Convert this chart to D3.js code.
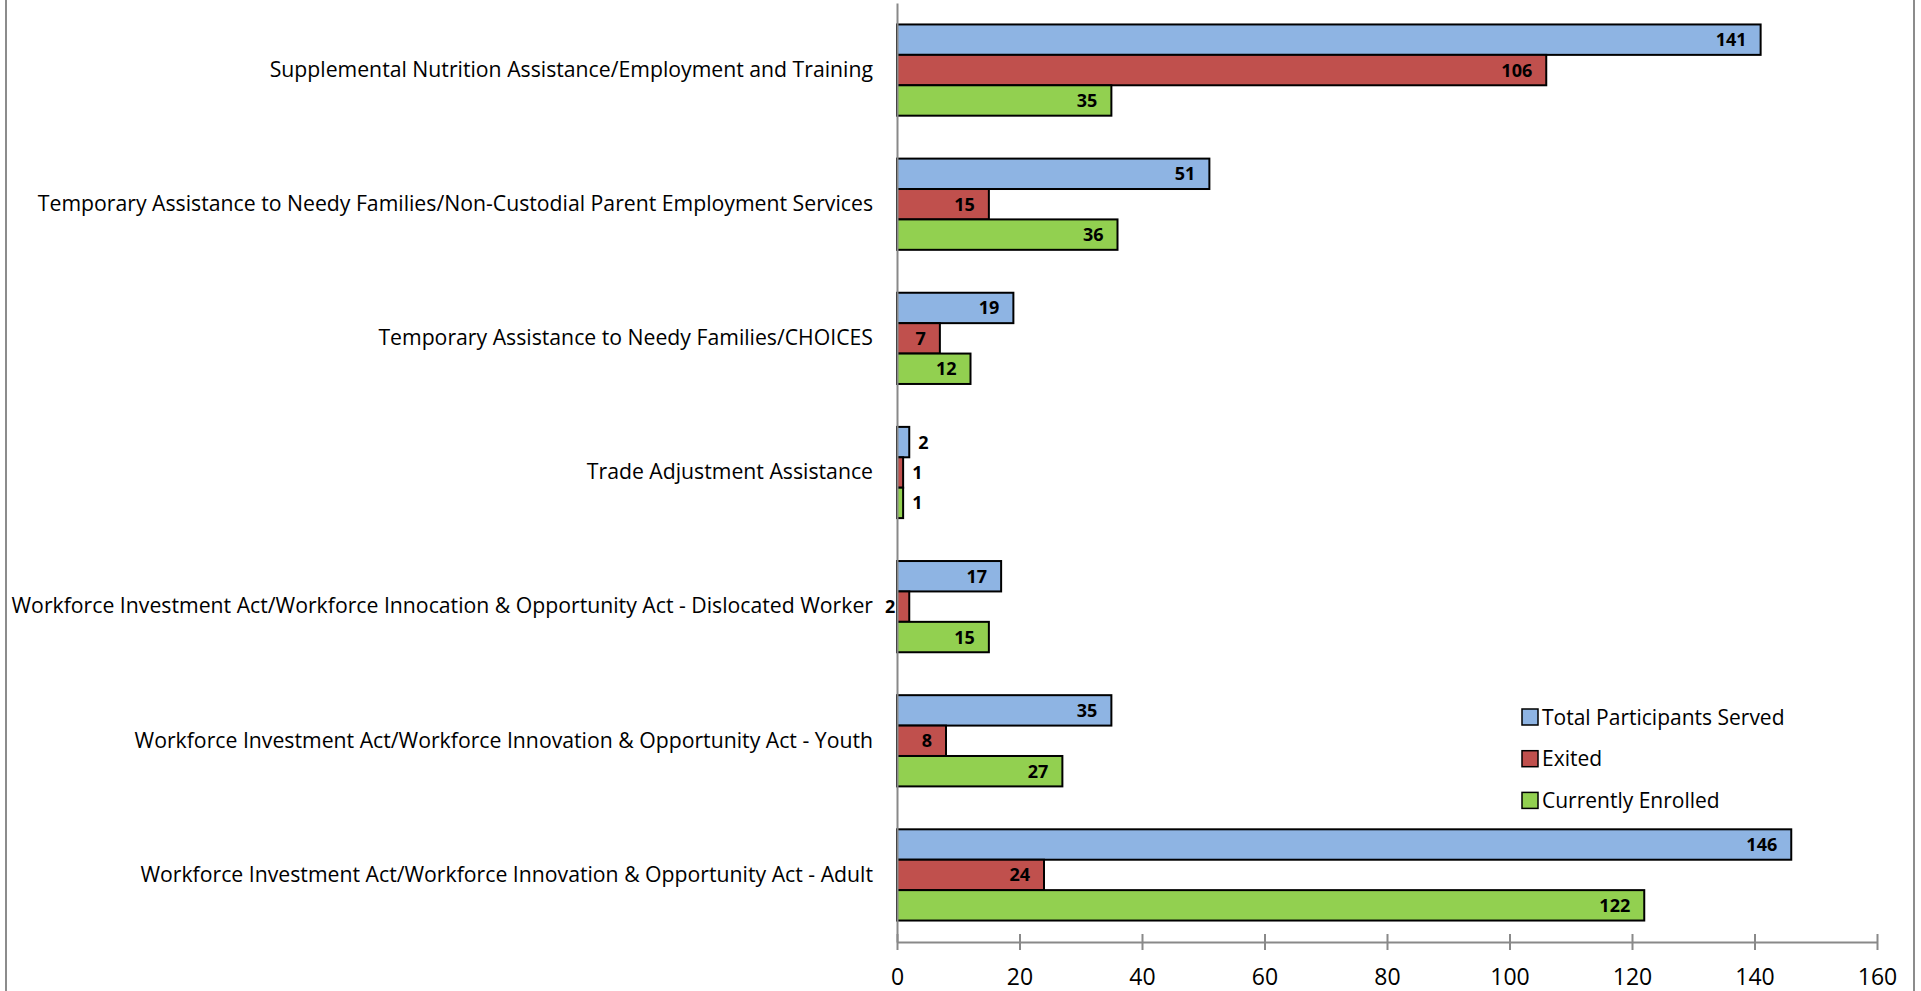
<!DOCTYPE html>
<html>
<head>
<meta charset="utf-8">
<script src="https://cdn.jsdelivr.net/npm/d3@7"></script>
<style>
  html, body { margin: 0; padding: 0; background: #fff; }
  svg { display: block; }
  text { font-family: "Open Sans", sans-serif; fill: #000; }
</style>
</head>
<body>
<svg id="chart"></svg>
<script>
// categories, top to bottom
var categories = [
	"Supplemental Nutrition Assistance/Employment and Training",
	"Temporary Assistance to Needy Families/Non-Custodial Parent Employment Services",
	"Temporary Assistance to Needy Families/CHOICES",
	"Trade Adjustment Assistance",
	"Workforce Investment Act/Workforce Innocation & Opportunity Act - Dislocated Worker",
	"Workforce Investment Act/Workforce Innovation & Opportunity Act - Youth",
	"Workforce Investment Act/Workforce Innovation & Opportunity Act - Adult"
];

var seriesNames = ["Total Participants Served", "Exited", "Currently Enrolled"];
var seriesColors = ["#8EB4E3", "#C0504D", "#92D050"];

var totalServed = [141, 51, 19, 2, 17, 35, 146];
var exited = [106, 15, 7, 1, 2, 8, 24];
var enrolled = [35, 36, 12, 1, 15, 27, 122];

var xTicks = [0, 20, 40, 60, 80, 100, 120, 140, 160];

var pageWidth = 1921;
var pageHeight = 991;
var axisGray = "#898989";

var svg = d3.select("#chart")
	.attr("width", pageWidth)
	.attr("height", pageHeight);

// chart frame (left / right edges visible)
svg.append("line").attr("x1", 6).attr("x2", 6).attr("y1", 0).attr("y2", pageHeight)
	.attr("stroke", "#8c8c8c").attr("stroke-width", 2);
svg.append("line").attr("x1", 1914).attr("x2", 1914).attr("y1", 0).attr("y2", pageHeight)
	.attr("stroke", "#8c8c8c").attr("stroke-width", 2);

var xScale = d3.scaleLinear()
	.domain([0, 160])
	.range([897, 1877]);

var yScale = d3.scaleBand()
	.domain(categories)
	.range([3, 942])
	.paddingInner(0.32)
	.paddingOuter(0.16);

var subScale = d3.scaleBand()
	.domain(seriesNames)
	.range([0, yScale.bandwidth()]);

var rows = categories.map(function(c, i) {
	return { cat: c, values: [totalServed[i], exited[i], enrolled[i]] };
});

// bars
var groups = svg.append("g").selectAll("g")
	.data(rows)
	.join("g")
	.attr("transform", function(d) { return "translate(0," + yScale(d.cat) + ")"; });

groups.selectAll("rect")
	.data(function(d) { return d.values.map(function(v, j) { return { v: v, s: j }; }); })
	.join("rect")
	.attr("x", xScale(0))
	.attr("y", function(d) { return subScale(seriesNames[d.s]); })
	.attr("width", function(d) { return xScale(d.v) - xScale(0); })
	.attr("height", subScale.bandwidth())
	.attr("fill", function(d) { return seriesColors[d.s]; })
	.attr("stroke", "#000")
	.attr("stroke-width", 2);

// data labels: inside end, or outside when the whole group is tiny
groups.selectAll("text.val")
	.data(function(d) {
		var tiny = d3.max(d.values) < 5;
		return d.values.map(function(v, j) { return { v: v, s: j, tiny: tiny }; });
	})
	.join("text")
	.attr("class", "val")
	.attr("x", function(d) { return d.tiny ? xScale(d.v) + 9 : xScale(d.v) - 14; })
	.attr("y", function(d) { return subScale(seriesNames[d.s]) + subScale.bandwidth() / 2; })
	.attr("dy", "0.36em")
	.attr("text-anchor", function(d) { return d.tiny ? "start" : "end"; })
	.style("font-size", "18px")
	.style("font-weight", "bold")
	.text(function(d) { return d.v; });

// x axis
var xAxis = svg.append("g")
	.attr("transform", "translate(0,942)")
	.call(d3.axisBottom(xScale).tickValues(xTicks).tickSizeInner(8).tickSizeOuter(0).tickPadding(19));

xAxis.select(".domain").attr("stroke", axisGray).attr("stroke-width", 2);
xAxis.selectAll(".tick line").attr("y1", -8).attr("y2", 8).attr("stroke", axisGray).attr("stroke-width", 2);
xAxis.selectAll(".tick text")
	.style("font-size", "23px")
	.style("font-family", "'Open Sans', sans-serif")
	.attr("fill", "#000");

// category axis
var yAxis = svg.append("g")
	.attr("transform", "translate(" + xScale(0) + ",0)")
	.call(d3.axisLeft(yScale).tickSize(0).tickPadding(24));

yAxis.select(".domain").attr("stroke", axisGray).attr("stroke-width", 2);
yAxis.selectAll(".tick text")
	.style("font-size", "18px")
	.style("font-family", "'Open Sans', sans-serif")
	.attr("fill", "#000");

// fit category label size so longest label spans like the original
var longest = d3.max(yAxis.selectAll(".tick text").nodes(), function(n) { return n.getComputedTextLength(); });
var catSize = 18 * 862 / longest;
yAxis.selectAll(".tick text").style("font-size", catSize + "px");

// legend
var legend = svg.append("g")
	.attr("transform", "translate(1522,717)");

var legendItems = legend.selectAll("g")
	.data(seriesNames)
	.join("g")
	.attr("transform", function(d, i) { return "translate(0," + (i * 41.7) + ")"; });

legendItems.append("rect")
	.attr("x", 0).attr("y", -8)
	.attr("width", 16).attr("height", 16)
	.attr("fill", function(d, i) { return seriesColors[i]; })
	.attr("stroke", "#000")
	.attr("stroke-width", 1.5);

legendItems.append("text")
	.attr("x", 20)
	.attr("dy", "0.36em")
	.style("font-size", "21px")
	.text(function(d) { return d; });
</script>
</body>
</html>
